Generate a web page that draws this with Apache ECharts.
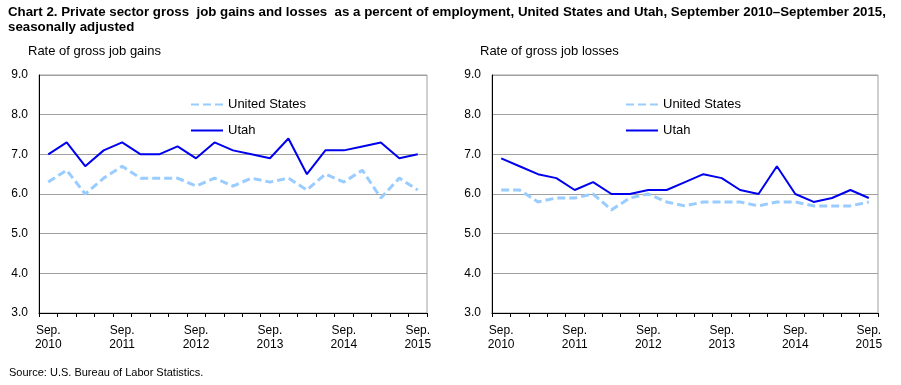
<!DOCTYPE html>
<html>
<head>
<meta charset="utf-8">
<script src="https://cdn.jsdelivr.net/npm/echarts@6/dist/echarts.min.js"></script>
<style>
html,body{margin:0;padding:0;background:#fff;}
#chart{width:901px;height:385px;}
</style>
</head>
<body>
<div id="chart"></div>
<script>
// Quarterly categories, September 2010 – September 2015
var quarters = ['Sep. 2010','Dec. 2010','Mar. 2011','Jun. 2011','Sep. 2011','Dec. 2011','Mar. 2012','Jun. 2012','Sep. 2012','Dec. 2012','Mar. 2013','Jun. 2013','Sep. 2013','Dec. 2013','Mar. 2014','Jun. 2014','Sep. 2014','Dec. 2014','Mar. 2015','Jun. 2015','Sep. 2015'];

// Rate of gross job gains
var gainsUS   = [6.3, 6.6, 6.0, 6.4, 6.7, 6.4, 6.4, 6.4, 6.2, 6.4, 6.2, 6.4, 6.3, 6.4, 6.1, 6.5, 6.3, 6.6, 5.9, 6.4, 6.1];
var gainsUtah = [7.0, 7.3, 6.7, 7.1, 7.3, 7.0, 7.0, 7.2, 6.9, 7.3, 7.1, 7.0, 6.9, 7.4, 6.5, 7.1, 7.1, 7.2, 7.3, 6.9, 7.0];

// Rate of gross job losses
var lossesUS   = [6.1, 6.1, 5.8, 5.9, 5.9, 6.0, 5.6, 5.9, 6.0, 5.8, 5.7, 5.8, 5.8, 5.8, 5.7, 5.8, 5.8, 5.7, 5.7, 5.7, 5.8];
var lossesUtah = [6.9, 6.7, 6.5, 6.4, 6.1, 6.3, 6.0, 6.0, 6.1, 6.1, 6.3, 6.5, 6.4, 6.1, 6.0, 6.7, 6.0, 5.8, 5.9, 6.1, 5.9];

var seriesNames = ['United States', 'Utah'];
var titleText = 'Chart 2. Private sector gross  job gains and losses  as a percent of employment, United States and Utah, September 2010\u2013September 2015,\nseasonally adjusted';
var panelTitles = ['Rate of gross job gains', 'Rate of gross job losses'];
var sourceText = 'Source: U.S. Bureau of Labor Statistics.';

var FONT = '"Liberation Sans", Arial, sans-serif';
var US_COLOR = '#99CCFF';
var UT_COLOR = '#0000EE';

var chart = echarts.init(document.getElementById('chart'), null, {renderer: 'canvas'});

function xAxis(gi) {
  return {
    type: 'category', gridIndex: gi, data: quarters, boundaryGap: true,
    axisLine: {lineStyle: {color: '#000', width: 1}},
    axisTick: {show: true, interval: 0, length: 4, lineStyle: {color: '#000'}},
    axisLabel: {
      interval: 3, margin: 11, color: '#000', fontSize: 12, fontFamily: FONT, lineHeight: 14,
      formatter: function (v) { return v.replace(' ', '\n'); }
    },
    splitLine: {show: false}
  };
}
function yAxis(gi) {
  return {
    type: 'value', gridIndex: gi, min: 3, max: 9, interval: 1,
    axisLine: {show: true, lineStyle: {color: '#000', width: 1}},
    axisTick: {show: false},
    axisLabel: {margin: 11, color: '#000', fontSize: 12, fontFamily: FONT,
      formatter: function (v) { return v.toFixed(1); }},
    splitLine: {show: true, lineStyle: {color: '#A0A0A0', width: 1}}
  };
}
function usSeries(gi, data) {
  return {name: seriesNames[0], type: 'line', xAxisIndex: gi, yAxisIndex: gi, data: data,
    symbol: 'none', smooth: false, z: 2,
    lineStyle: {color: US_COLOR, width: 3, type: [8, 4]}, itemStyle: {color: US_COLOR}};
}
function utSeries(gi, data) {
  return {name: seriesNames[1], type: 'line', xAxisIndex: gi, yAxisIndex: gi, data: data,
    symbol: 'none', smooth: false, z: 3,
    lineStyle: {color: UT_COLOR, width: 2}, itemStyle: {color: UT_COLOR}};
}
function legend(left) {
  return {
    data: seriesNames, orient: 'vertical', left: left, top: 93,
    itemWidth: 32, itemHeight: 14, itemGap: 13,
    itemStyle: {opacity: 0},
    textStyle: {color: '#000', fontSize: 13, fontFamily: FONT},
    selectedMode: false
  };
}

chart.setOption({
  animation: false,
  backgroundColor: '#fff',
  title: [
    {text: titleText, left: 3, top: 0,
      textStyle: {fontSize: 13.3, fontWeight: 'bold', color: '#000', fontFamily: FONT, lineHeight: 15}},
    {text: panelTitles[0], left: 23, top: 40,
      textStyle: {fontSize: 13, fontWeight: 'normal', color: '#000', fontFamily: FONT}},
    {text: panelTitles[1], left: 475, top: 40,
      textStyle: {fontSize: 13, fontWeight: 'normal', color: '#000', fontFamily: FONT}},
    {text: sourceText, left: 4, top: 362,
      textStyle: {fontSize: 11, fontWeight: 'normal', color: '#000', fontFamily: FONT}}
  ],
  legend: [legend(185), legend(620)],
  grid: [
    {left: 39, right: 474, top: 75, bottom: 72, show: true, borderColor: '#A0A0A0', borderWidth: 1, containLabel: false},
    {left: 492, right: 23, top: 75, bottom: 72, show: true, borderColor: '#A0A0A0', borderWidth: 1, containLabel: false}
  ],
  xAxis: [xAxis(0), xAxis(1)],
  yAxis: [yAxis(0), yAxis(1)],
  series: [
    usSeries(0, gainsUS), utSeries(0, gainsUtah),
    usSeries(1, lossesUS), utSeries(1, lossesUtah)
  ]
});
</script>
</body>
</html>
